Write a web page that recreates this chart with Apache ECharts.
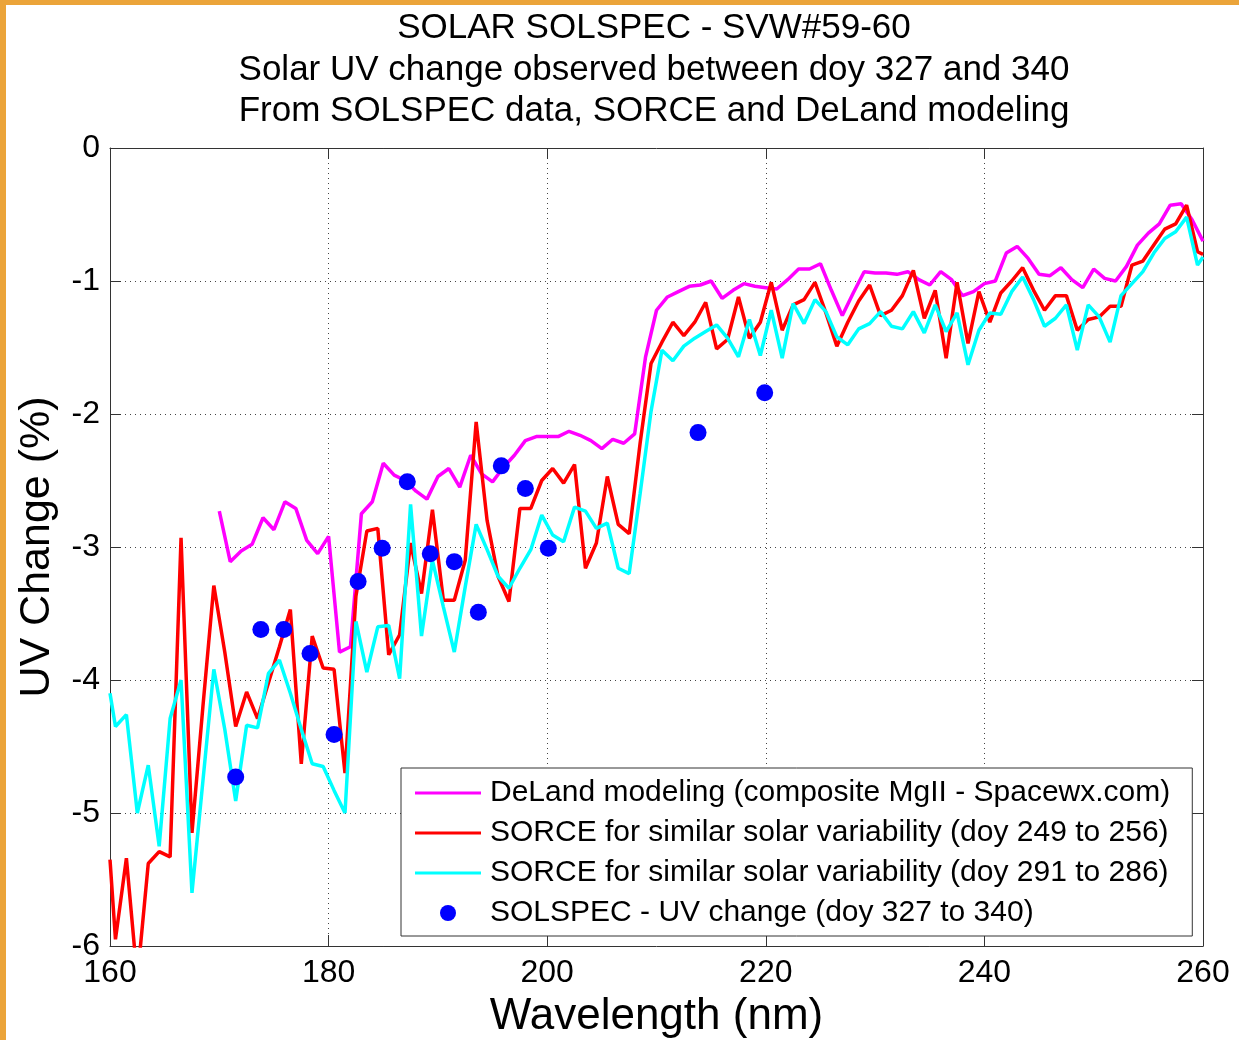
<!DOCTYPE html>
<html lang="en">
<head>
    <meta charset="UTF-8">
    <title>SOLAR SOLSPEC</title>
    <style>
        *{
            padding:0;
            margin:0;
        }
        body{ background:#fff; }
        #main{ position:absolute; left:0; top:0; width:1239px; height:1040px; }
        .edgeTop{ position:absolute; left:0; top:0; width:1239px; height:5px; background:#eba43a; z-index:5; }
        .edgeLeft{ position:absolute; left:0; top:0; width:6px; height:1040px; background:#eba43a; z-index:5; }
    </style>
</head>
<script src="https://cdn.jsdelivr.net/npm/echarts@6/dist/echarts.min.js"></script>
<body>
    <div id="main"></div>
    <div class="edgeTop"></div>
    <div class="edgeLeft"></div>
<script>
    // SORCE wavelengths (nm)
    var sorceWave = [160,
        160.5,161.5,162.5,163.5,164.5,165.5,166.5,167.5,168.5,169.5,
        170.5,171.5,172.5,173.5,174.5,175.5,176.5,177.5,178.5,179.5,
        180.5,181.5,182.5,183.5,184.5,185.5,186.5,187.5,188.5,189.5,
        190.5,191.5,192.5,193.5,194.5,195.5,196.5,197.5,198.5,199.5,
        200.5,201.5,202.5,203.5,204.5,205.5,206.5,207.5,208.5,209.5,
        210.5,211.5,212.5,213.5,214.5,215.5,216.5,217.5,218.5,219.5,
        220.5,221.5,222.5,223.5,224.5,225.5,226.5,227.5,228.5,229.5,
        230.5,231.5,232.5,233.5,234.5,235.5,236.5,237.5,238.5,239.5,
        240.5,241.5,242.5,243.5,244.5,245.5,246.5,247.5,248.5,249.5,
        250.5,251.5,252.5,253.5,254.5,255.5,256.5,257.5,258.5,259.5,
        260];

    // SORCE doy 249 to 256 (red)
    var sorceA = [-5.35,
        -5.95,-5.34,-6.25,-5.38,-5.29,-5.33,-2.93,-5.15,-4.20,-3.29,
        -3.79,-4.35,-4.09,-4.29,-4.02,-3.75,-3.47,-4.63,-3.67,-3.91,
        -3.92,-4.70,-3.37,-2.88,-2.86,-3.81,-3.66,-2.97,-3.35,-2.72,
        -3.40,-3.40,-3.10,-2.06,-2.80,-3.22,-3.41,-2.71,-2.71,-2.50,
        -2.41,-2.52,-2.38,-3.16,-2.97,-2.47,-2.83,-2.90,-2.22,-1.62,
        -1.46,-1.31,-1.41,-1.31,-1.16,-1.51,-1.44,-1.12,-1.43,-1.31,
        -1.01,-1.37,-1.18,-1.14,-1.01,-1.24,-1.49,-1.31,-1.15,-1.03,
        -1.26,-1.22,-1.11,-0.92,-1.28,-1.07,-1.58,-1.01,-1.47,-1.08,
        -1.31,-1.09,-1.00,-0.90,-1.07,-1.22,-1.11,-1.11,-1.37,-1.29,
        -1.27,-1.19,-1.19,-0.88,-0.85,-0.73,-0.61,-0.57,-0.43,-0.78,
        -0.80];

    // SORCE doy 291 to 286 (cyan)
    var sorceB = [-4.10,
        -4.35,-4.26,-5.00,-4.64,-5.25,-4.29,-4.00,-5.60,-4.76,-3.92,
        -4.37,-4.91,-4.34,-4.36,-3.95,-3.85,-4.10,-4.37,-4.63,-4.65,
        -4.83,-5.00,-3.56,-3.94,-3.60,-3.59,-3.99,-2.68,-3.67,-3.10,
        -3.45,-3.79,-3.30,-2.83,-3.02,-3.22,-3.31,-3.16,-3.02,-2.76,
        -2.91,-2.96,-2.70,-2.73,-2.86,-2.82,-3.16,-3.20,-2.60,-1.98,
        -1.52,-1.60,-1.49,-1.43,-1.38,-1.33,-1.43,-1.57,-1.29,-1.56,
        -1.22,-1.58,-1.17,-1.32,-1.14,-1.23,-1.42,-1.48,-1.36,-1.32,
        -1.23,-1.34,-1.36,-1.23,-1.39,-1.18,-1.38,-1.24,-1.63,-1.37,
        -1.24,-1.25,-1.08,-0.97,-1.14,-1.34,-1.28,-1.18,-1.52,-1.18,
        -1.27,-1.46,-1.11,-1.02,-0.93,-0.79,-0.68,-0.63,-0.52,-0.88,
        -0.82];

    // DeLand modeling wavelengths and values (magenta)
    var delandWave = [
        170,171,172,173,174,175,176,177,178,179,
        180,181,182,183,184,185,186,187,188,189,
        190,191,192,193,194,195,196,197,198,199,
        200,201,202,203,204,205,206,207,208,209,
        210,211,212,213,214,215,216,217,218,219,
        220,221,222,223,224,225,226,227,228,229,
        230,231,232,233,234,235,236,237,238,239,
        240,241,242,243,244,245,246,247,248,249,
        250,251,252,253,254,255,256,257,258,259,
        260];
    var deland = [
        -2.73,-3.11,-3.03,-2.98,-2.78,-2.87,-2.66,-2.71,-2.95,-3.05,
        -2.92,-3.79,-3.75,-2.75,-2.66,-2.37,-2.46,-2.50,-2.58,-2.64,
        -2.47,-2.41,-2.55,-2.31,-2.45,-2.51,-2.40,-2.31,-2.20,-2.17,
        -2.17,-2.17,-2.13,-2.16,-2.20,-2.26,-2.19,-2.22,-2.15,-1.57,
        -1.22,-1.12,-1.08,-1.04,-1.03,-1.00,-1.13,-1.07,-1.02,-1.04,
        -1.05,-1.06,-0.99,-0.91,-0.91,-0.87,-1.07,-1.26,-1.09,-0.93,
        -0.94,-0.94,-0.95,-0.93,-0.99,-1.03,-0.93,-0.99,-1.11,-1.08,
        -1.02,-1.00,-0.79,-0.74,-0.83,-0.95,-0.96,-0.90,-0.99,-1.05,
        -0.91,-0.98,-1.00,-0.89,-0.73,-0.64,-0.57,-0.43,-0.42,-0.54,
        -0.70];

    // SOLSPEC observations (blue dots)
    var solspecWave = [171.5,173.8,175.9,178.3,180.5,182.7,184.9,187.2,189.3,191.5,193.7,195.8,198.0,200.1,213.8,219.9];
    var solspec = [-4.73,-3.62,-3.62,-3.80,-4.41,-3.26,-3.01,-2.51,-3.05,-3.11,-3.49,-2.39,-2.56,-3.01,-2.14,-1.84];

    var xTicks = [160, 180, 200, 220, 240, 260];
    var yTicks = [0, -1, -2, -3, -4, -5, -6];

    var seriesNames = [
        'DeLand modeling (composite MgII - Spacewx.com)',
        'SORCE for similar solar variability (doy 249 to 256)',
        'SORCE for similar solar variability (doy 291 to 286)',
        'SOLSPEC - UV change (doy 327 to 340)'
    ];

    function pairs(xs, ys) {
        var res = [];
        for (var i = 0; i < xs.length; i++) {
            res.push([xs[i], ys[i]]);
        }
        return res;
    }

    var font = "'Liberation Sans', Arial, sans-serif";
    // plain line sample for the legend (no marker in the middle)
    var lineIcon = 'path://M0,0 L66,0 L66,3 L0,3 Z';
    var myChart = echarts.init(document.getElementById('main'));

    var axisCommon = {
        type: 'value',
        axisLine: { show: true, onZero: false, lineStyle: { color: '#333', width: 1 } },
        axisTick: { show: true, inside: true, length: 11, lineStyle: { color: '#333' } }
    };

    var option = {
        backgroundColor: '#fff',
        animation: false,
        title: {
            text: 'SOLAR SOLSPEC - SVW#59-60\nSolar UV change observed between doy 327 and 340\nFrom SOLSPEC data, SORCE and DeLand modeling',
            left: 654,
            top: 8,
            padding: 0,
            textAlign: 'center',
            textStyle: {
                fontFamily: font,
                fontSize: 35,
                fontWeight: 'normal',
                color: '#000',
                lineHeight: 41.5
            }
        },
        grid: {
            left: 110,
            right: 36,
            top: 148,
            bottom: 94,
            containLabel: false,
            outerBoundsMode: 'none'
        },
        legend: {
            orient: 'vertical',
            left: 401,
            top: 768,
            padding: [10, 22, 8, 14],
            itemWidth: 66,
            itemHeight: 16,
            itemGap: 10,
            backgroundColor: '#fff',
            borderColor: '#333',
            borderWidth: 1,
            borderRadius: 0,
            data: [
                { name: seriesNames[0], icon: lineIcon },
                { name: seriesNames[1], icon: lineIcon },
                { name: seriesNames[2], icon: lineIcon },
                { name: seriesNames[3], icon: 'circle' }
            ],
            textStyle: {
                fontFamily: font,
                fontSize: 30,
                color: '#000',
                lineHeight: 30,
                padding: [0, 0, 0, 4]
            }
        },
        xAxis: [
            Object.assign({}, axisCommon, {
                position: 'bottom',
                min: xTicks[0],
                max: xTicks[xTicks.length - 1],
                interval: 20,
                name: 'Wavelength (nm)',
                nameLocation: 'middle',
                nameGap: 49,
                nameTextStyle: { fontFamily: font, fontSize: 44, color: '#000' },
                axisLabel: { fontFamily: font, fontSize: 32, color: '#000', margin: 11 },
                splitLine: { show: true, lineStyle: { color: '#444', type: [1, 4], width: 1 } }
            }),
            Object.assign({}, axisCommon, {
                position: 'top',
                min: xTicks[0],
                max: xTicks[xTicks.length - 1],
                interval: 20,
                axisLabel: { show: false },
                splitLine: { show: false }
            })
        ],
        yAxis: [
            Object.assign({}, axisCommon, {
                position: 'left',
                min: yTicks[yTicks.length - 1],
                max: yTicks[0],
                interval: 1,
                name: 'UV Change (%)',
                nameLocation: 'middle',
                nameGap: 51,
                nameTextStyle: { fontFamily: font, fontSize: 43, color: '#000' },
                axisLabel: { fontFamily: font, fontSize: 32, color: '#000', margin: 10 },
                splitLine: { show: true, lineStyle: { color: '#444', type: [1, 4], width: 1 } }
            }),
            Object.assign({}, axisCommon, {
                position: 'right',
                min: yTicks[yTicks.length - 1],
                max: yTicks[0],
                interval: 1,
                axisLabel: { show: false },
                splitLine: { show: false }
            })
        ],
        series: [
            {
                name: seriesNames[0],
                type: 'line',
                data: pairs(delandWave, deland),
                symbol: 'none',
                color: '#ff00ff',
                lineStyle: { color: '#ff00ff', width: 3.5 }
            },
            {
                name: seriesNames[1],
                type: 'line',
                data: pairs(sorceWave, sorceA),
                symbol: 'none',
                color: '#ff0000',
                lineStyle: { color: '#ff0000', width: 3.5 }
            },
            {
                name: seriesNames[2],
                type: 'line',
                data: pairs(sorceWave, sorceB),
                symbol: 'none',
                color: '#00ffff',
                lineStyle: { color: '#00ffff', width: 3.5 }
            },
            {
                name: seriesNames[3],
                type: 'scatter',
                data: pairs(solspecWave, solspec),
                symbol: 'circle',
                symbolSize: 17,
                itemStyle: { color: '#0000ff', opacity: 1 },
                z: 5
            }
        ]
    };
    myChart.setOption(option);
</script>
</body>
</html>
